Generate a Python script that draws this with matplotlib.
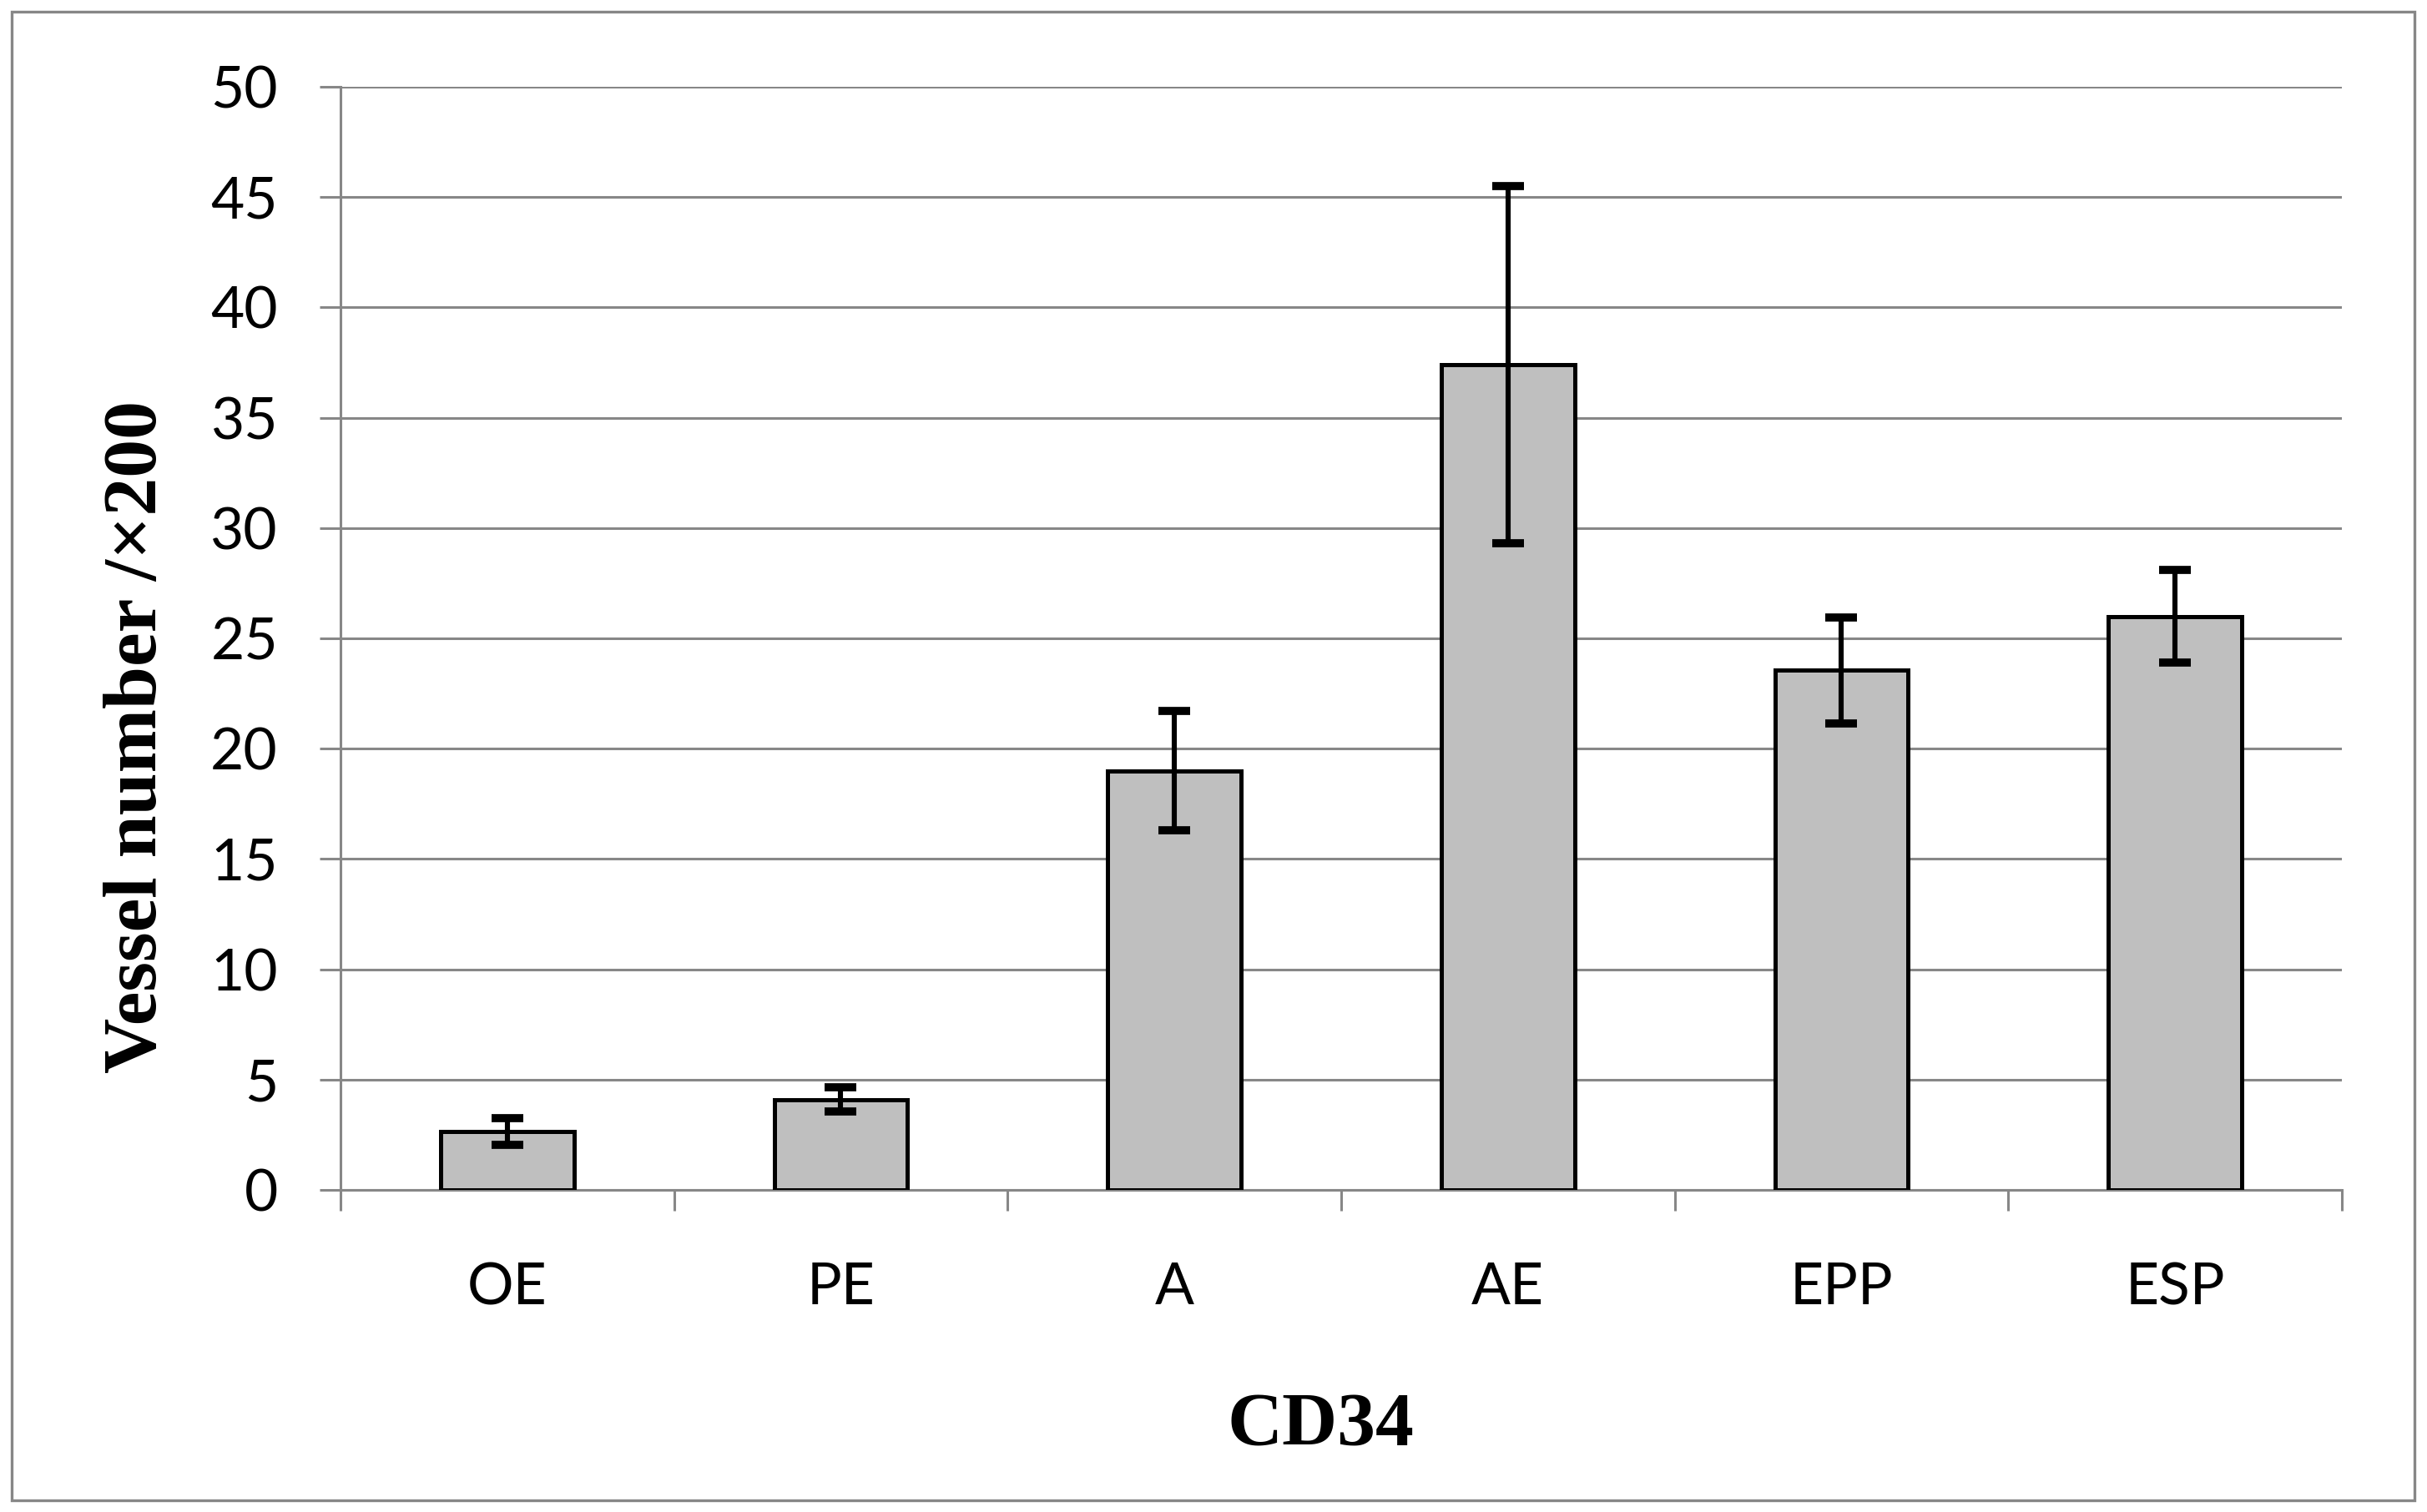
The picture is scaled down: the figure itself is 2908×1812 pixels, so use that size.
import numpy as np
import matplotlib
matplotlib.use('Agg')
import matplotlib.pyplot as plt
from matplotlib.patches import Rectangle

# datos
grupos = ['OE', 'PE', 'A', 'AE', 'EPP', 'ESP']
medias = [2.65, 4.1, 19.0, 37.4, 23.55, 26.0]
errores = [0.6, 0.55, 2.7, 8.1, 2.4, 2.1]
yticks = [0, 5, 10, 15, 20, 25, 30, 35, 40, 45, 50]

gris = '#878787'

fig = plt.figure(figsize=(14.54, 9.06), dpi=200)
ax = fig.add_axes([0.1403, 0.2130, 0.8246, 0.7296])

x = np.arange(len(grupos))
ax.bar(x, medias, width=0.4, color='#BFBFBF', edgecolor='black',
       linewidth=1.8, zorder=3)
ax.errorbar(x, medias, yerr=errores, fmt='none', ecolor='black',
            elinewidth=2.2, capsize=7, capthick=3.5, zorder=4)

ax.set_ylim(0, 50)
ax.set_xlim(-0.5, len(grupos) - 0.5)
ax.set_yticks(yticks)
ax.set_yticklabels([str(v) for v in yticks], fontsize=25, family='Lato')
ax.set_xticks(x)
ax.set_xticklabels(grupos, fontsize=25, family='Lato')
ax.set_xticks(np.arange(len(grupos) + 1) - 0.5, minor=True)

ax.yaxis.grid(True, color=gris, linewidth=1.1, zorder=0)
ax.set_axisbelow(True)
ax.tick_params(axis='y', which='major', length=9, width=1.1, color=gris, pad=18)
ax.tick_params(axis='x', which='major', length=0, pad=31)
ax.tick_params(axis='x', which='minor', length=9, width=1.1, color=gris)

for s in ['top', 'right']:
    ax.spines[s].set_visible(False)
for s in ['left', 'bottom']:
    ax.spines[s].set_color(gris)
    ax.spines[s].set_linewidth(1.1)

fig.text(0.0567, 0.5127, 'Vessel number /\u00d7200', rotation=90,
         ha='center', va='center', fontsize=33, fontweight='bold',
         family='Liberation Serif')
fig.text(0.544, 0.0563, 'CD34', ha='center', va='center', fontsize=33,
         fontweight='bold', family='Liberation Serif')

# marco exterior
fig.patches.append(Rectangle((0.0048, 0.0077), 0.99, 0.9846,
                             transform=fig.transFigure, fill=False,
                             edgecolor=gris, linewidth=1.2))

fig.savefig('out.png', dpi=200, facecolor='white')
